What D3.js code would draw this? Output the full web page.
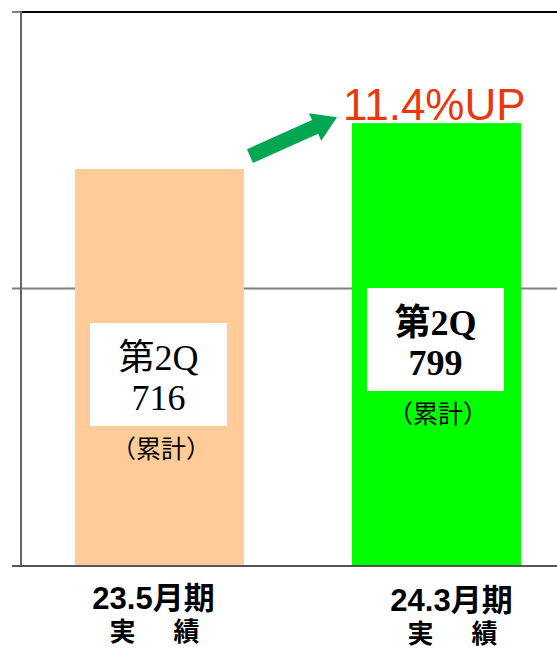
<!DOCTYPE html>
<html><head><meta charset="utf-8">
<script src="https://cdn.jsdelivr.net/npm/d3@7"></script>
<style>body{margin:0;background:#fff}svg{display:block}</style>
</head><body>
<svg id="c" width="557" height="648"></svg>
<script>
const categories = ["23.5月期", "24.3月期"];
const subLabels = ["実　績", "実　績"];
const values = [716, 799];
const boxTitles = ["第2Q", "第2Q"];
const boxNotes = ["（累計）", "（累計）"];
const growthLabel = "11.4%UP";
const yTicks = [0, 500, 1000];
const barColors = ["#FFCC99", "#00FF00"];

const svg = d3.select("#c");
const plotLeft = 21, plotTop = 12, plotBottom = 565;
const x = d3.scaleBand().domain(categories).range([plotLeft, 575]).paddingInner(0.39).paddingOuter(0.195);
const y = d3.scaleLinear().domain([0, 1000]).range([plotBottom, plotTop]);

// gridlines
svg.append("g").selectAll("line").data(yTicks.filter(d => d > 0)).join("line")
  .attr("x1", d => d === 1000 ? plotLeft : 12).attr("x2", 557)
  .attr("y1", d => y(d)).attr("y2", d => y(d))
  .attr("stroke", d => d === 1000 ? "#000" : "#7f7f7f").attr("stroke-width", 2);
svg.append("line").attr("x1", 12).attr("x2", plotLeft).attr("y1", y(1000)).attr("y2", y(1000)).attr("stroke", "#7f7f7f").attr("stroke-width", 2);

// bars
svg.append("g").selectAll("rect").data(values).join("rect")
  .attr("x", (d, i) => x(categories[i])).attr("width", x.bandwidth())
  .attr("y", d => y(d)).attr("height", d => y(0) - y(d))
  .attr("fill", (d, i) => barColors[i]);

// axes lines
svg.append("line").attr("x1", plotLeft).attr("x2", plotLeft).attr("y1", y(1000) - 1).attr("y2", y(0) + 1)
  .attr("stroke", "#666").attr("stroke-width", 2);
svg.append("line").attr("x1", 12).attr("x2", 557).attr("y1", y(0) + 1).attr("y2", y(0) + 1)
  .attr("stroke", "#555").attr("stroke-width", 2);

// value boxes
const boxTop = [y(0) - 242, y(0) - 277];
const bold = [false, true];
values.forEach((v, i) => {
  const bx = x(categories[i]) + 15;
  const g = svg.append("g");
  g.append("rect").attr("x", bx).attr("y", boxTop[i]).attr("width", 137).attr("height", 103).attr("fill", "#fff");
  const ff = "'Liberation Serif','Noto Sans CJK JP',serif";
  g.append("text").attr("x", bx + 68.5).attr("y", boxTop[i] + 47).attr("text-anchor", "middle")
    .attr("font-family", ff).attr("font-size", 36).attr("font-weight", bold[i] ? "bold" : "normal").text(boxTitles[i]);
  g.append("text").attr("x", bx + 68.5).attr("y", boxTop[i] + 87).attr("text-anchor", "middle")
    .attr("font-family", ff).attr("font-size", 36).attr("font-weight", bold[i] ? "bold" : "normal").text(v);
  g.append("text").attr("x", bx + 71).attr("y", boxTop[i] + 135).attr("text-anchor", "middle")
    .attr("font-family", ff).attr("font-size", 25).text(boxNotes[i]);
});

// category labels
const dx = [-6, 15], dy = [0, 2];
const lf = "'Liberation Sans','Noto Sans CJK JP',sans-serif";
categories.forEach((c, i) => {
  const cx = x(c) + x.bandwidth() / 2 + dx[i];
  svg.append("text").attr("x", cx).attr("y", 609 + dy[i]).attr("text-anchor", "middle")
    .attr("font-family", lf).attr("font-weight", "bold").attr("font-size", 31)
    .text(c);
  svg.append("text").attr("x", cx + 4).attr("y", 641 + dy[i]).attr("text-anchor", "middle")
    .attr("font-family", lf).attr("font-weight", "bold").attr("font-size", 26)
    .attr("letter-spacing", 6).text(subLabels[i]);
});

// growth arrow
const x0 = x(categories[0]) + x.bandwidth() + 6, y0 = y(values[0]) - 13;
const x1 = x(categories[1]) - 15, y1 = y(values[1]) - 6;
const ang = Math.atan2(y1 - y0, x1 - x0);
const len = Math.hypot(x1 - x0, y1 - y0);
const hw = 7.5, hh = 15, hl = 24;
const pts = [[0, -hw], [len - hl, -hw], [len - hl, -hh], [len, 0], [len - hl, hh], [len - hl, hw], [0, hw]];
svg.append("polygon").attr("points", pts.map(p => p.join(",")).join(" "))
  .attr("transform", `translate(${x0},${y0}) rotate(${ang * 180 / Math.PI})`)
  .attr("fill", "#00A651");

svg.append("text").attr("x", x(categories[1]) - 9).attr("y", y(values[1]) - 3)
  .attr("font-family", "'Liberation Sans',Arial,sans-serif").attr("font-size", 44)
  .attr("fill", "#E8380D").text(growthLabel);
</script>
</body></html>
